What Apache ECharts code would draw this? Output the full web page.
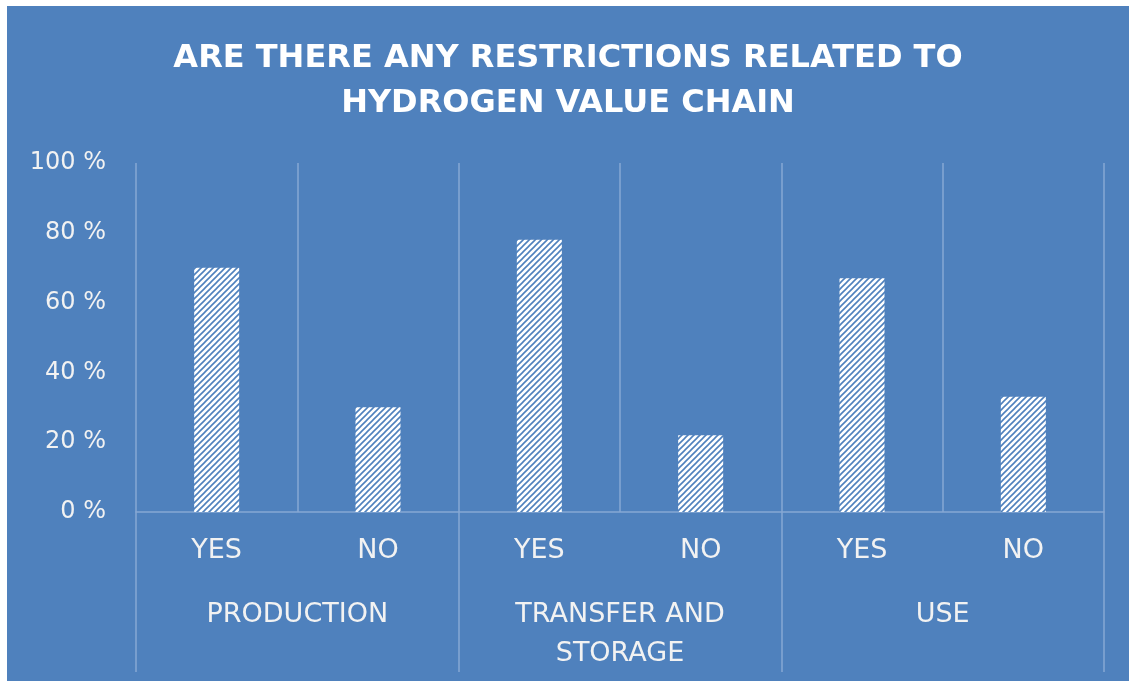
<!DOCTYPE html>
<html lang="en">
<head>
    <meta charset="UTF-8">
    <title>Hydrogen value chain</title>
    <style>
        html, body { margin: 0; padding: 0; background: #ffffff; }
        #main { position: absolute; left: 7px; top: 6px; width: 1122px; height: 675px; background: #4f81bd; }
    </style>
</head>
<body>
<div id="main"></div>
<script src="https://cdn.jsdelivr.net/npm/echarts@6/dist/echarts.min.js"></script>
<script>
    // data
    var answers = ['YES', 'NO', 'YES', 'NO', 'YES', 'NO'];
    var stages = ['PRODUCTION', 'TRANSFER AND\nSTORAGE', 'USE'];
    var shares = [70, 30, 78, 22, 67, 33];
    var yTicks = [0, 20, 40, 60, 80, 100];

    var bg = '#4f81bd';
    var lineCol = '#86a8d4';
    var textCol = '#f2f2f2';
    var font = 'DejaVu Sans';

    // hatch pattern, white with diagonal blue stripes
    function hatch() {
        var c = document.createElement('canvas');
        c.width = 6; c.height = 6;
        var ctx = c.getContext('2d');
        ctx.fillStyle = '#ffffff';
        ctx.fillRect(0, 0, 6, 6);
        ctx.strokeStyle = bg;
        ctx.lineWidth = 1.6;
        ctx.beginPath();
        ctx.moveTo(-1, 7); ctx.lineTo(7, -1);
        ctx.moveTo(-1, 1); ctx.lineTo(1, -1);
        ctx.moveTo(5, 7); ctx.lineTo(7, 5);
        ctx.stroke();
        return c;
    }

    var myChart = echarts.init(document.getElementById('main'));
    var option = {
        animation: false,
        textStyle: { fontFamily: font },
        title: {
            text: 'ARE THERE ANY RESTRICTIONS RELATED TO\nHYDROGEN VALUE CHAIN',
            left: 'center',
            top: 25,
            textStyle: {
                color: '#ffffff',
                fontFamily: font,
                fontWeight: 'bold',
                fontSize: 32,
                lineHeight: 45
            }
        },
        grid: {
            left: 129,
            right: 25,
            top: 157,
            bottom: 169
        },
        xAxis: [
            {
                type: 'category',
                data: answers,
                position: 'bottom',
                axisLine: { show: true, lineStyle: { color: lineCol, width: 1.5 } },
                axisTick: { show: false },
                splitLine: { show: true, interval: 0, lineStyle: { color: lineCol, width: 1.5 } },
                axisLabel: { color: textCol, fontSize: 27, margin: 25, interval: 0 }
            },
            {
                type: 'category',
                data: stages,
                position: 'bottom',
                axisLine: { show: false },
                axisTick: { show: true, length: 160, interval: 0, lineStyle: { color: lineCol, width: 1.5 } },
                splitLine: { show: false },
                axisLabel: { color: textCol, fontSize: 27, margin: 83, lineHeight: 39, interval: 0 }
            }
        ],
        yAxis: {
            type: 'value',
            min: yTicks[0],
            max: yTicks[yTicks.length - 1],
            interval: yTicks[1] - yTicks[0],
            axisLine: { show: false },
            axisTick: { show: false },
            splitLine: { show: false },
            axisLabel: { color: textCol, fontSize: 24, margin: 30, formatter: '{value} %' }
        },
        series: [
            {
                type: 'bar',
                data: shares,
                barWidth: 45,
                itemStyle: {
                    color: { image: hatch(), repeat: 'repeat' }
                }
            }
        ]
    };
    myChart.setOption(option);
</script>
</body>
</html>
